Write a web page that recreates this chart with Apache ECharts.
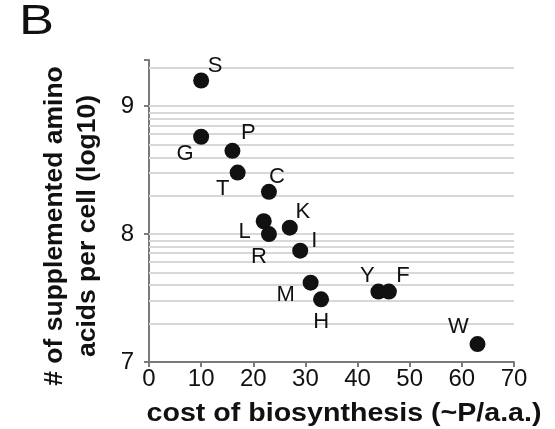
<!DOCTYPE html>
<html><head><meta charset="utf-8">
<script src="https://cdn.jsdelivr.net/npm/echarts@6/dist/echarts.min.js"></script>
<style>html,body{margin:0;padding:0;background:#fff}#c{width:555px;height:429px}</style>
</head><body><div id="c"></div>
<script>
const aminoAcids = ['S','G','P','T','C','L','R','K','I','M','H','Y','F','W'];
const costValues = [10, 10, 16, 17, 23, 22, 23, 27, 29, 31, 33, 44, 46, 63];
const logCounts = [9.20, 8.76, 8.65, 8.48, 8.33, 8.10, 8.00, 8.05, 7.87, 7.62, 7.49, 7.55, 7.55, 7.14];
const yTickLabels = ['7','8','9'];
const xTickLabels = ['0','10','20','30','40','50','60','70'];
const gridMultipliers = [1,2,3,4,5,6,7,8,9];
const decades = [7,8,9];

const labelOffsets = {
  S:[14,-15], G:[-16,17], P:[16,-18], T:[-15,16], C:[8,-15], L:[-19,11], R:[-10,23],
  K:[13,-16], I:[14,-10], M:[-25,12], H:[0,23], Y:[-11,-16], F:[14,-16], W:[-19,-17]
};

const yMax = 9.36;
const gridVals = [];
decades.forEach(d => gridMultipliers.forEach(m => {
  const v = d + Math.log10(m);
  if (v > 7.01 && v < yMax) gridVals.push(v);
}));

const chart = echarts.init(document.getElementById('c'), null, {renderer:'canvas'});
const data = aminoAcids.map((a,i) => ({
  value:[costValues[i], logCounts[i]], name:a,
  label:{offset:labelOffsets[a]}
}));

chart.setOption({
  animation:false,
  grid:{left:149, right:41, top:60, bottom:67},
  xAxis:{type:'value', min:0, max:70, interval:10,
    axisLine:{show:true, lineStyle:{color:'#7a7a7a', width:2}},
    axisTick:{show:true, length:5, lineStyle:{color:'#7a7a7a', width:2}},
    axisLabel:{color:'#111', fontSize:24, fontFamily:'Liberation Sans', margin:5,
      formatter:(v)=> xTickLabels[Math.round(v/10)]},
    splitLine:{show:false}},
  yAxis:{type:'value', min:7, max:yMax, interval:1,
    axisLine:{show:true, lineStyle:{color:'#7a7a7a', width:2}},
    axisTick:{show:true, length:5, lineStyle:{color:'#7a7a7a', width:2}},
    axisLabel:{color:'#111', fontSize:24, fontFamily:'Liberation Sans', margin:15,
      formatter:(v)=> { const i = Math.round(v-7); return (Math.abs(v-Math.round(v))<1e-6 && yTickLabels[i]) ? yTickLabels[i] : ''; }},
    splitLine:{show:false}},
  series:[
    {type:'scatter', data:[], z:1, silent:true,
      markLine:{silent:true, symbol:'none', label:{show:false}, animation:false,
        lineStyle:{color:'#d8d8d8', width:1.8, type:'solid'},
        data: gridVals.map(v=>({yAxis:v}))}},
    {type:'scatter', symbolSize:16, itemStyle:{color:'#111', opacity:1}, z:5,
      label:{show:true, position:['50%','50%'], align:'center', verticalAlign:'middle',
        formatter:(p)=>p.name, color:'#111', fontSize:22, fontFamily:'Liberation Sans'},
      data:data}
  ],
  graphic:[
    {type:'text', left:19, top:1, scaleX:1.25, style:{text:'B', fontSize:42, fontFamily:'Liberation Sans', fill:'#111'}},
    {type:'text', x:71.5, y:226, rotation:Math.PI/2,
      style:{text:'# of supplemented amino\nacids per cell (log10)', fontSize:26.5, fontWeight:'bold',
        fontFamily:'Liberation Sans', fill:'#111', align:'center', verticalAlign:'middle', lineHeight:33}},
    {type:'text', x:344, y:414, scaleX:1.1,
      style:{text:'cost of biosynthesis (~P/a.a.)', fontSize:26, fontWeight:'bold',
        fontFamily:'Liberation Sans', fill:'#111', align:'center', verticalAlign:'middle'}}
  ]
});
</script></body></html>
